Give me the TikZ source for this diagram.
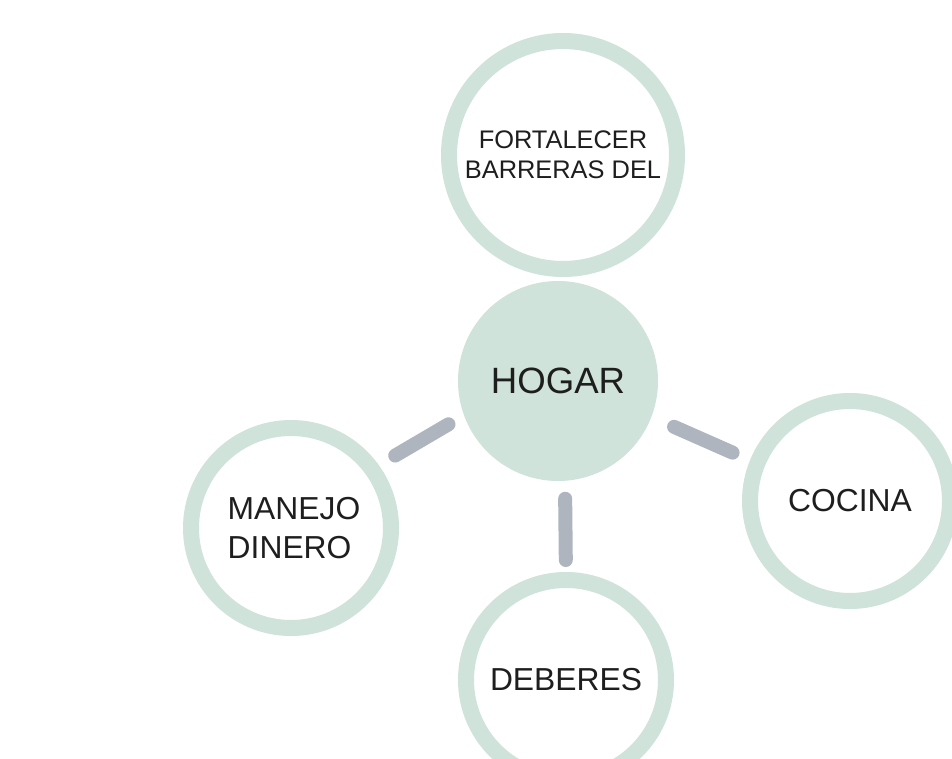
\documentclass[tikz,border=0pt]{standalone}
\usepackage{fontspec}
\setmainfont{Liberation Sans}
\usepackage{tikz}
\definecolor{ringgreen}{HTML}{CFE3DA}
\definecolor{linkgray}{HTML}{AFB5BF}
\definecolor{txtdark}{HTML}{1E1E1E}
\tikzset{
  ring/.style={circle, draw=ringgreen, line width=8pt, fill=white, inner sep=0pt,
    outer sep=0pt, minimum size=100pt, align=center, text=txtdark,
    font=\fontsize{15.9}{19.5}\selectfont},
  hub/.style={circle, fill=ringgreen, inner sep=0pt, outer sep=0pt,
    minimum size=100pt, text=txtdark, font=\fontsize{18.3}{22}\selectfont},
  link/.style={draw=linkgray, line width=7pt, line cap=round}
}

\begin{document}
\begin{tikzpicture}[x=0.5pt, y=-0.5pt]
        \useasboundingbox[fill=white] (0,0) rectangle (952,759);
        % centre
        \node[hub] (hogar) at (558,381) {HOGAR};
        % rings
        \node[ring, minimum size=114pt, font=\fontsize{12.7}{15}\selectfont]
          (fortalecer) at (563,155) {FORTALECER\\BARRERAS DEL};
        \node[ring, align=left] (manejo) at (291,528) {\hspace*{3pt}MANEJO\\\hspace*{3pt}DINERO};
        \node[ring] (cocina) at (850,501) {COCINA};
        \node[ring] (deberes) at (566,680) {DEBERES};
        % links
        \draw[link, shorten <=9pt, shorten >=13.5pt] (hogar.200) -- (manejo.36);
        \draw[link, shorten <=12.4pt, shorten >=13.5pt] (hogar.339) -- (cocina.158);
        \draw[link, shorten <=9pt, shorten >=10pt] (hogar.274) -- (deberes.north);
    \end{tikzpicture}
\end{document}
